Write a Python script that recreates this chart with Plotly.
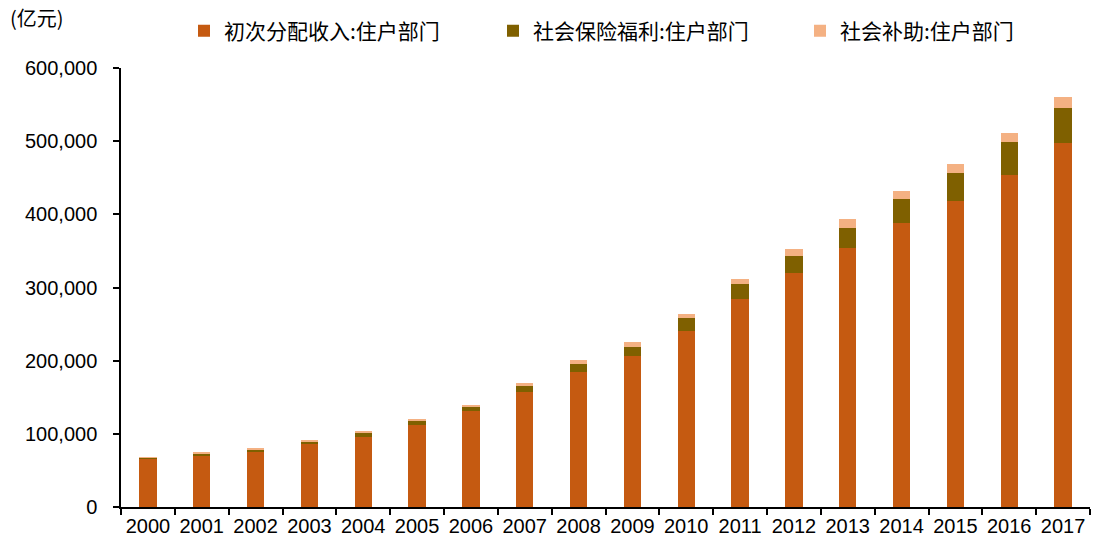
import plotly.graph_objects as go

years = [str(y) for y in range(2000, 2018)]
primary_income = [65800, 70900, 75800, 85800, 95800, 111800, 130600, 157400, 184300,
                  206200, 240900, 284300, 319400, 354500, 387900, 418400, 454000, 497400]
social_insurance = [1500, 2700, 3400, 3900, 5600, 5900, 6800, 7800, 10600,
                    12000, 16900, 20100, 24100, 27300, 33600, 38700, 44200, 48300]
social_subsidy = [700, 1000, 1500, 1600, 2200, 2300, 2200, 4500, 5500,
                  6800, 5900, 7600, 9200, 11500, 10600, 12300, 12300, 14100]

names = ["初次分配收入:住户部门", "社会保险福利:住户部门", "社会补助:住户部门"]
colors = ["#C55A11", "#7F6000", "#F4B183"]
series = [primary_income, social_insurance, social_subsidy]
legend_ids = ["legend", "legend2", "legend3"]

W, H = 1095, 550
L, R, T, B = 121, 5, 68, 43
pw = W - L - R
ph = H - T - B

fig = go.Figure()
for n, c, v, lg in zip(names, colors, series, legend_ids):
    fig.add_trace(go.Bar(x=years, y=v, name=n, legend=lg,
                         marker=dict(color=c, line=dict(width=0))))

legend_text_starts = [224, 533, 840]
leg_common = dict(
    orientation="h", xanchor="left", yanchor="middle",
    y=1 + (T - 31) / ph,
    font=dict(family="Noto Sans CJK SC", size=21, color="black"),
    itemwidth=30, bgcolor="rgba(0,0,0,0)",
)
legend_layout = {}
for lg, ts in zip(legend_ids, legend_text_starts):
    legend_layout[lg] = dict(leg_common, x=(ts - 40 - L) / pw)

fig.update_layout(
    width=W, height=H,
    barmode="stack", bargap=0.68,
    margin=dict(l=L, r=R, t=T, b=B, autoexpand=False),
    plot_bgcolor="white", paper_bgcolor="white",
    font=dict(family="Liberation Sans, Arial", size=20, color="black"),
    showlegend=True,
    xaxis=dict(
        type="category", showgrid=False,
        showline=True, linecolor="black", linewidth=1.5,
        ticks="outside", ticklen=6, tickcolor="black", tickwidth=1.5,
        tickson="boundaries", tickangle=0,
        tickfont=dict(family="Liberation Sans, Arial", size=20),
    ),
    yaxis=dict(
        range=[0, 600000], dtick=100000, tickformat=",",
        showgrid=False, zeroline=False,
        showline=True, linecolor="black", linewidth=1.5,
        ticks="outside", ticklen=6, tickcolor="black", tickwidth=1.5,
        ticklabelstandoff=12,
        tickfont=dict(family="Liberation Sans, Arial", size=20),
    ),
    annotations=[dict(
        text="(亿元)", xref="paper", yref="paper",
        x=(8 - L) / pw, xanchor="left",
        y=1 + (T - 18) / ph, yanchor="middle",
        showarrow=False,
        font=dict(family="Noto Sans CJK SC", size=20, color="black"),
    )],
    **legend_layout,
)

fig.write_html("out.html")
